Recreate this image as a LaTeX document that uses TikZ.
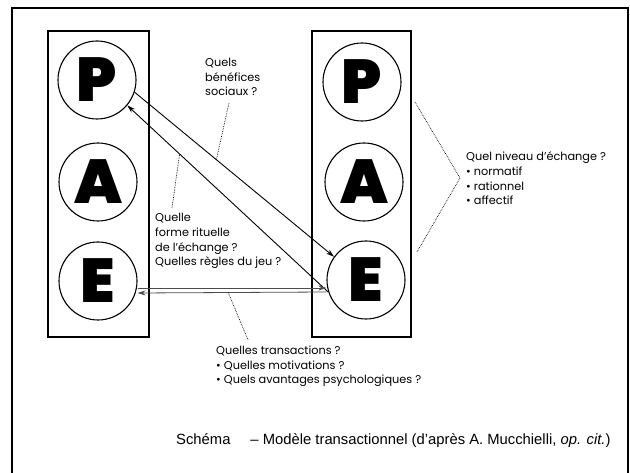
\documentclass[tikz,border=0pt]{standalone}
\usepackage{fontspec}
\setmainfont{Poppins}
\newfontfamily\heavy{Poppins}[UprightFont=* Black]
\newfontfamily\capfont{Liberation Sans}
\usetikzlibrary{arrows.meta,calc}
\begin{document}
\begin{tikzpicture}[x=1pt,y=-1pt,
  colbox/.style={draw,line width=1.1pt,inner sep=0pt},
  egobox/.style={draw,circle,line width=1.1pt,minimum size=78pt,inner sep=0pt,
     font=\heavy\fontsize{62}{62}\selectfont},
  arr/.style={line width=0.9pt,-{Stealth[length=8pt,width=5pt]}},
  harr/.style={line width=0.8pt,black!70,-{Stealth[length=8pt,width=5pt]}},
  dot/.style={densely dotted,line width=0.7pt},
  lab/.style={align=left,inner sep=0pt,font=\fontsize{11.3}{14.8}\selectfont},
]
\useasboundingbox (0,0) rectangle (630,473);
\draw[line width=1.2pt] (12,480) -- (12,8) -- (628,8) -- (628,480);

\node[colbox,minimum width=101pt,minimum height=306pt] (boxL) at (98.5,184) {};
\node[colbox,minimum width=99pt,minimum height=306pt] (boxR) at (361.5,184) {};

\node[egobox] (LP) at (97,80) {P};
\node[egobox] (LA) at (98,182) {A};
\node[egobox] (LE) at (98,281) {E};
\node[egobox] (RP) at (362,82) {P};
\node[egobox] (RA) at (364,182) {A};
\node[egobox] (RE) at (366,280) {E};

\draw[arr] (LP.-18) -- (RE.144.5);
\draw[arr] (RE.198) -- (LP.-40);
\draw[harr] ([yshift=-7pt]LE.east) -- ([yshift=-8pt]RE.west);
\draw[harr] ([yshift=-12pt]RE.west) -- ([yshift=-12pt]LE.east);

\path (LP.-18) -- (RE.144.5) coordinate[pos=0.41] (d1);
\path (RE.198) -- (LP.-40) coordinate[pos=0.74] (d2);
\path ([yshift=-12pt]RE.west) -- ([yshift=-12pt]LE.east) coordinate[pos=0.52] (d3);

\node[lab,anchor=base west] (bq) at (205,96) {Quels\\bénéfices\\sociaux ?};
\node[lab,anchor=base west] (fq) at (155,266) {Quelle\\forme rituelle\\de l’échange ?\\Quelles règles du jeu ?};
\node[lab,anchor=base west] (nq) at (466,205) {Quel niveau d’échange ?\\• normatif\\• rationnel\\• affectif};
\node[lab,anchor=base west] (tq) at (216,384) {Quelles transactions ?\\• Quelles motivations ?\\• Quels avantages psychologiques ?};

\coordinate (q1) at (229,103);
\coordinate (q2) at (172,208);
\coordinate (r1) at (415,102);
\coordinate (r2) at (460,178);
\coordinate (r3) at (417,252);
\coordinate (q3) at (248,340);
\draw[dot] (q1) -- (d1);
\draw[dot] (q2) -- (d2);
\draw[dot] (r1) -- (r2) -- (r3);
\draw[dot] (d3) -- (q3);

\node[inner sep=0pt,anchor=base west,font=\capfont\fontsize{14.8}{16}\selectfont] (cap) at (176,445)
  {Schéma\hspace{20pt}– Modèle transactionnel (d’après A. Mucchielli, \textit{op. cit.})};
\end{tikzpicture}
\end{document}
